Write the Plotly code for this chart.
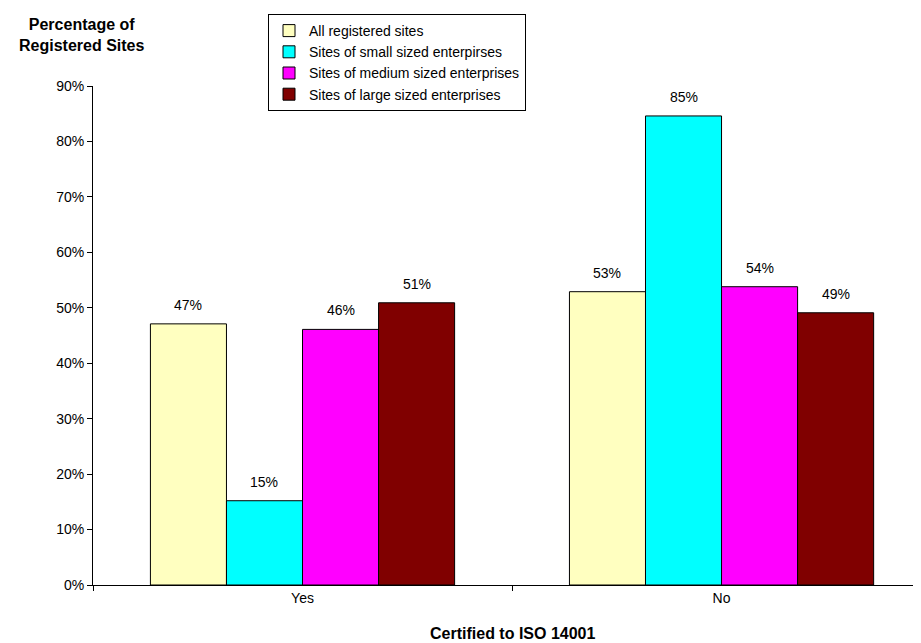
import plotly.graph_objects as go

categories = ["Yes", "No"]
series_names = [
    "All registered sites",
    "Sites of small sized enterpirses",
    "Sites of medium sized enterprises",
    "Sites of large sized enterprises",
]
all_sites = [47.1, 52.9]
small_sites = [15.2, 84.6]
medium_sites = [46.1, 53.8]
large_sites = [50.9, 49.1]
series_values = [all_sites, small_sites, medium_sites, large_sites]
colors = ["#FFFFC0", "#00FFFF", "#FF00FF", "#800000"]
y_ticks = [0, 10, 20, 30, 40, 50, 60, 70, 80, 90]

FONT = "Liberation Sans, Arial, sans-serif"
OFF = 8  # default page body margin
W, H = 921 - OFF, 643 - OFF
L, R, T, B = 93 - OFF, 0, 86 - OFF, 58
PW, PH = W - L - R, H - T - B
BARGAP = 0.274
n = len(series_names)
slot = (1 - BARGAP) / n

fig = go.Figure()
annotations = []
for i, (name, vals, col) in enumerate(zip(series_names, series_values, colors)):
    fig.add_trace(go.Bar(
        x=categories, y=vals, name=name,
        marker=dict(color=col, line=dict(color="black", width=1)),
        legendgroup=f"g{i}",
    ))
    for ci, v in enumerate(vals):
        annotations.append(dict(
            text=f"{v:.0f}%", x=ci + (i - (n - 1) / 2) * slot, y=v,
            xref="x", yref="y", xanchor="center", yanchor="bottom",
            yshift=9, showarrow=False,
            font=dict(family=FONT, size=14, color="black"),
        ))

annotations += [
    dict(text="<b>Percentage of<br>Registered Sites</b>",
         x=(81 - 93) / PW, y=(585 - 35) / PH,
         xref="paper", yref="paper", xanchor="center", yanchor="middle",
         showarrow=False, font=dict(family=FONT, size=16)),
    dict(text="<b>Certified to ISO 14001</b>", x=0.5, y=(585 - 633) / PH,
         xref="x", yref="paper", xanchor="center", yanchor="middle",
         showarrow=False, font=dict(family=FONT, size=16)),
]

fig.update_layout(
    width=W, height=H,
    margin=dict(l=L, r=R, t=T, b=B, autoexpand=False),
    paper_bgcolor="white", plot_bgcolor="white",
    barmode="group", bargap=BARGAP, bargroupgap=0,
    font=dict(family=FONT, size=14, color="black"),
    showlegend=True,
    legend=dict(
        x=(268 - OFF) / W, y=1 - (14 - OFF) / H, xref="container", yref="container",
        xanchor="left", yanchor="top",
        bgcolor="white", bordercolor="black", borderwidth=1,
        font=dict(family=FONT, size=14, color="black"),
        tracegroupgap=3, traceorder="normal", itemwidth=30,
    ),
    xaxis=dict(
        type="category", range=[-0.5, 1.476],
        showline=True, linecolor="black", linewidth=1,
        ticks="outside", tickson="boundaries", ticklen=5, tickcolor="black",
        showgrid=False, tickfont=dict(family=FONT, size=14),
    ),
    yaxis=dict(
        range=[0, 90], tickvals=y_ticks, ticktext=[f"{t}%" for t in y_ticks],
        showline=True, linecolor="black", linewidth=1,
        ticks="outside", ticklen=5, tickcolor="black",
        showgrid=False, zeroline=False, tickfont=dict(family=FONT, size=14),
    ),
    annotations=annotations,
)

fig.write_html("out.html")
